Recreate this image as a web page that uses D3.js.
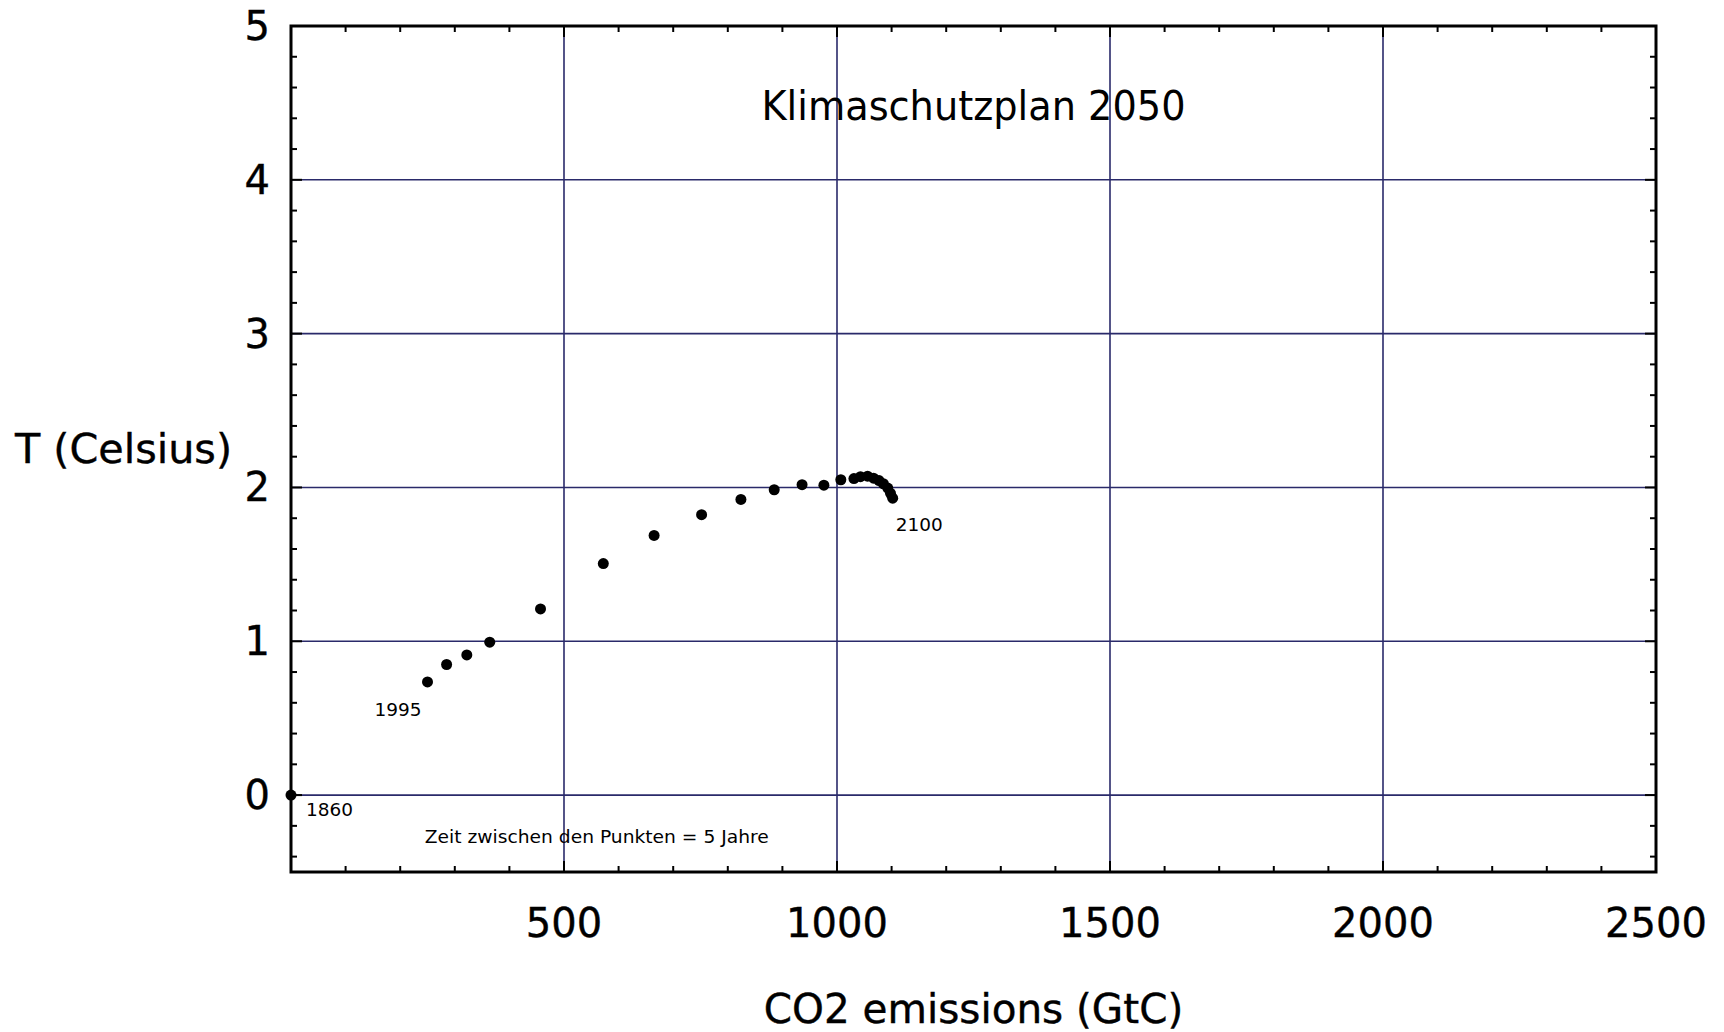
<!DOCTYPE html>
<html>
<head>
<meta charset="utf-8">
<script src="https://cdn.jsdelivr.net/npm/d3@7"></script>
<style>
  html, body { margin: 0; padding: 0; background: #fff; }
  svg { display: block; }
  text { font-family: "DejaVu Sans", Verdana, sans-serif; fill: #000; }
</style>
</head>
<body>
<svg id="chart" width="1724" height="1032"></svg>
<script>
// ---- data ----
const years = [1860, 1995, 2000, 2005, 2010, 2015, 2020, 2025, 2030, 2035, 2040, 2045, 2050,
               2055, 2060, 2065, 2070, 2075, 2080, 2085, 2090, 2095, 2100];
const emissions = [0, 250, 285, 322, 364, 457, 572, 665, 752, 824, 885, 936, 976,
                   1007, 1031, 1043, 1056, 1067, 1077, 1085, 1093, 1098, 1102];
const temperature = [0, 0.736, 0.849, 0.911, 0.994, 1.21, 1.505, 1.688, 1.823, 1.922, 1.985, 2.018, 2.015,
                     2.05, 2.058, 2.07, 2.073, 2.06, 2.045, 2.024, 1.996, 1.962, 1.93];
const xTickLabels = [500, 1000, 1500, 2000, 2500];
const yTickLabels = [0, 1, 2, 3, 4, 5];
const labeledYears = [1860, 1995, 2100];
const chartTitle = "Klimaschutzplan 2050";
const xTitle = "CO2 emissions (GtC)";
const yTitle = "T (Celsius)";
const note = "Zeit zwischen den Punkten = 5 Jahre";

// ---- layout ----
const svg = d3.select("#chart");
const L = 291, R = 1656, T = 26, B = 872;
const x = d3.scaleLinear().domain([0, 2500]).range([L, R]);
const y = d3.scaleLinear().domain([-0.5, 5]).range([B, T]);
const gridColor = "#2a2a6a";

// grid
svg.append("g").selectAll("line").data(xTickLabels.filter(v => v < 2500)).join("line")
  .attr("x1", d => x(d)).attr("x2", d => x(d)).attr("y1", T).attr("y2", B)
  .attr("stroke", gridColor).attr("stroke-width", 1.6);
svg.append("g").selectAll("line").data(yTickLabels.filter(v => v < 5)).join("line")
  .attr("x1", L).attr("x2", R).attr("y1", d => y(d)).attr("y2", d => y(d))
  .attr("stroke", gridColor).attr("stroke-width", 1.6);

// ticks (inward, on all four sides)
const xMinor = d3.range(100, 2500, 100);
const yMinor = d3.range(-4, 50, 2).map(v => v / 10);
const isMajX = v => v % 500 === 0;
const isMajY = v => Math.abs(v - Math.round(v)) < 1e-9;
const tg = svg.append("g").attr("stroke", "#000").attr("stroke-width", 2);
xMinor.forEach(v => {
  const len = isMajX(v) ? 11 : 6;
  tg.append("line").attr("x1", x(v)).attr("x2", x(v)).attr("y1", B).attr("y2", B - len);
  tg.append("line").attr("x1", x(v)).attr("x2", x(v)).attr("y1", T).attr("y2", T + len);
});
yMinor.forEach(v => {
  const len = isMajY(v) ? 11 : 6;
  tg.append("line").attr("x1", L).attr("x2", L + len).attr("y1", y(v)).attr("y2", y(v));
  tg.append("line").attr("x1", R).attr("x2", R - len).attr("y1", y(v)).attr("y2", y(v));
});

// frame
svg.append("rect").attr("x", L).attr("y", T).attr("width", R - L).attr("height", B - T)
  .attr("fill", "none").attr("stroke", "#000").attr("stroke-width", 3);

// tick labels
svg.append("g").selectAll("text").data(xTickLabels).join("text")
  .attr("x", d => x(d)).attr("y", 937).attr("text-anchor", "middle")
  .attr("font-size", 40).attr("stroke", "#000").attr("stroke-width", 0.4).text(d => d);
svg.append("g").selectAll("text").data(yTickLabels).join("text")
  .attr("x", L - 21).attr("y", d => y(d) + 14).attr("text-anchor", "end")
  .attr("font-size", 40).attr("stroke", "#000").attr("stroke-width", 0.4).text(d => d);

// axis titles
svg.append("text").attr("x", (L + R) / 2).attr("y", 1023).attr("text-anchor", "middle")
  .attr("font-size", 40.5).attr("stroke", "#000").attr("stroke-width", 0.4).text(xTitle);
svg.append("text").attr("x", 15).attr("y", 463).attr("text-anchor", "start")
  .attr("font-size", 41).attr("stroke", "#000").attr("stroke-width", 0.4)
  .attr("textLength", 217).attr("lengthAdjust", "spacingAndGlyphs").text(yTitle);

// chart title
svg.append("text").attr("x", (L + R) / 2).attr("y", 120).attr("text-anchor", "middle")
  .attr("font-size", 40).attr("textLength", 424).attr("lengthAdjust", "spacingAndGlyphs").text(chartTitle);

// points
const pts = years.map((yr, i) => ({ yr, e: emissions[i], t: temperature[i] }));
svg.append("g").selectAll("circle").data(pts).join("circle")
  .attr("cx", d => x(d.e)).attr("cy", d => y(d.t)).attr("r", 5.5).attr("fill", "#000");

// year labels
const offsets = { 1860: [15, 21], 1995: [-53, 34], 2100: [3, 33] };
svg.append("g").selectAll("text").data(pts.filter(d => labeledYears.includes(d.yr))).join("text")
  .attr("x", d => x(d.e) + offsets[d.yr][0]).attr("y", d => y(d.t) + offsets[d.yr][1])
  .attr("font-size", 18).attr("textLength", 47).attr("lengthAdjust", "spacingAndGlyphs").text(d => d.yr);

// note
svg.append("text").attr("x", x(245)).attr("y", y(-0.314)).attr("font-size", 18)
  .attr("textLength", 344).attr("lengthAdjust", "spacingAndGlyphs").text(note);
</script>
</body>
</html>
